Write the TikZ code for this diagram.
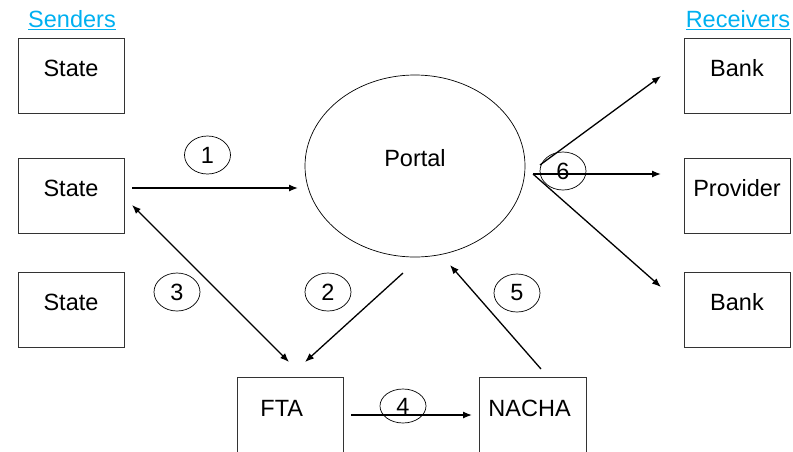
\documentclass[tikz,border=0pt]{standalone}
\usepackage{fontspec}
\setmainfont{Liberation Sans}
\usetikzlibrary{arrows.meta,shapes.geometric}
\definecolor{hdr}{RGB}{0,176,240}
\begin{document}
\begin{tikzpicture}[x=1pt,y=-1pt,
  every node/.style={font=\fontsize{23.5}{28}\selectfont},
  box/.style={draw=black!80,line width=0.9pt,minimum width=106pt,inner xsep=0pt,inner ysep=0pt,text height=38.5pt,text depth=36.5pt},
  lowbox/.style={draw=black!80,line width=0.9pt,inner ysep=0pt,align=left,text height=39.5pt,text depth=45pt},
  num/.style={draw,ellipse,line width=0.7pt,minimum width=46pt,minimum height=38pt,inner sep=0pt},
  arr/.style={line width=1.3pt,-{Latex[length=9pt,width=7pt]}},
  darr/.style={line width=1.3pt,{Latex[length=9pt,width=7pt]}-{Latex[length=9pt,width=7pt]}},
  hdrtext/.style={text=hdr,inner sep=0pt}]
\clip (0,0) rectangle (793,451);
\useasboundingbox (0,0) rectangle (793,451);
% headers
\node[hdrtext] (senders) at (72,20) {\underline{Senders}};
\node[hdrtext] (receivers) at (738,20) {\underline{Receivers}};
% sender boxes
\node[box] (s1) at (71,75.5) {State};
\node[box] (s2) at (71,195.5) {State};
\node[box] (s3) at (71,309.5) {State};
% receiver boxes
\node[box] (r1) at (737,75.5) {Bank};
\node[box] (r2) at (737,195.5) {Provider};
\node[box] (r3) at (737,309.5) {Bank};
% portal
\node[draw,ellipse,line width=0.7pt,minimum width=220pt,minimum height=182pt,inner sep=0pt,text height=17pt,text depth=17pt] (portal) at (415,166) {Portal};
% FTA and NACHA
\node[lowbox,anchor=north west,inner xsep=23pt,text width=60pt] (fta) at (237,377) {FTA};
\node[lowbox,anchor=north west,inner xsep=9pt,text width=89pt] (nacha) at (479,377) {NACHA};
% connector end points
\coordinate (a1s) at (132,188);
\coordinate (a1e) at (298,188);
\coordinate (a3s) at (132,205);
\coordinate (a3e) at (289,362);
\coordinate (a2s) at (403,273);
\coordinate (a2e) at (305,362);
\coordinate (a4s) at (351,415);
\coordinate (a4e) at (472,415);
\coordinate (a5s) at (541,369);
\coordinate (a5e) at (450,265);
\coordinate (a6a) at (540,165);
\coordinate (a6s) at (533,174);
\coordinate (b1) at (661,76);
\coordinate (b2) at (661,174);
\coordinate (b3) at (661,287);
% connectors
\draw[arr] (a1s) -- (a1e);
\draw[darr] (a3s) -- (a3e);
\draw[arr] (a2s) -- (a2e);
\draw[arr] (a4s) -- (a4e);
\draw[arr] (a5s) -- (a5e);
\draw[arr] (a6a) -- (b1);
\draw[arr] (a6s) -- (b2);
\draw[arr] (a6s) -- (b3);
% step numbers
\node[num] (n1) at (207.5,155) {1};
\node[num] (n2) at (328,292) {2};
\node[num] (n3) at (177,292) {3};
\node[num,minimum height=34pt] (n4) at (403,406) {4};
\node[num] (n5) at (517,293) {5};
\node[num] (n6) at (563,171) {6};
\end{tikzpicture}
\end{document}
